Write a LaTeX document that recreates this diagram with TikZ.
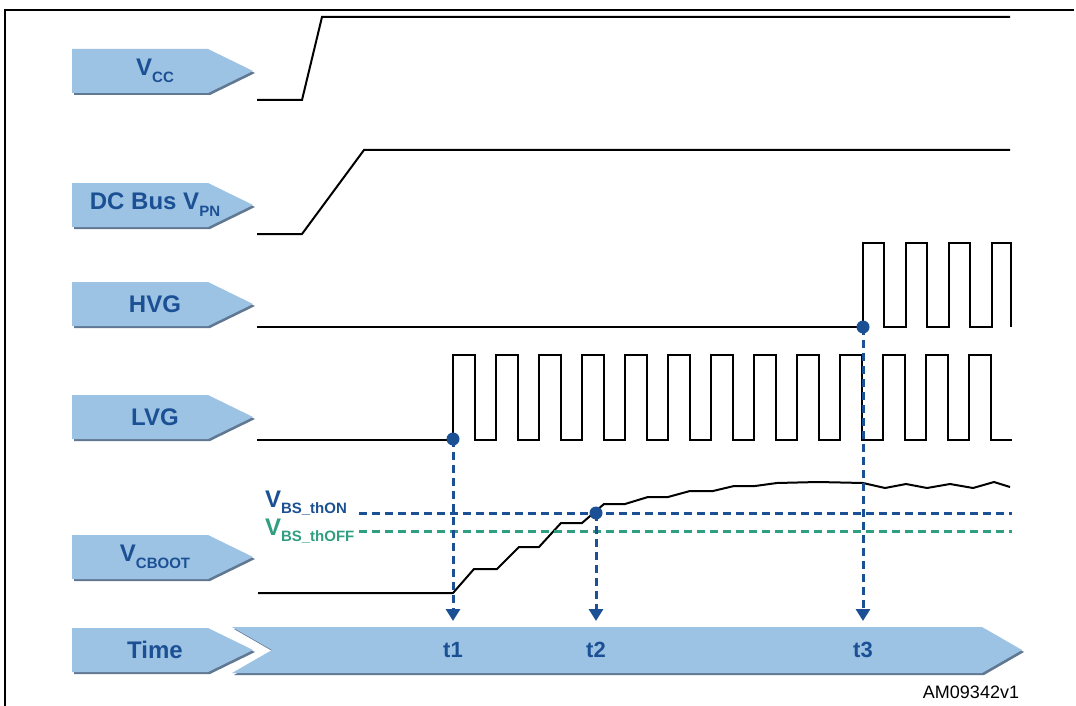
\documentclass[tikz,border=0pt]{standalone}
\usepackage{fontspec}
\setmainfont{Liberation Sans}
\usetikzlibrary{arrows.meta}
\definecolor{labelFill}{RGB}{157,195,228}
\definecolor{labelShade}{RGB}{96,120,146}
\definecolor{sigBlue}{RGB}{28,80,148}
\definecolor{thGreen}{RGB}{48,158,128}
% subscript in the signal names
\newcommand{\lsub}[1]{\raisebox{-0.55ex}{\fontsize{15}{15}\selectfont #1}}
\tikzset{
    every picture/.style={
        line width=2pt
    },
    % Style for the waveforms
    wave/.style={
        black,
        line width=2pt,
        line join=miter
    },
    % Style for the signal names
    sig label/.style={
        font=\fontsize{24}{26}\selectfont\bfseries,
        text=sigBlue,
        inner sep=0pt
    },
    % Style for the threshold names
    th label/.style={
        font=\fontsize{24}{26}\selectfont\bfseries,
        inner sep=0pt,
        anchor=base west
    },
    % Threshold lines
    th on/.style={
        sigBlue,
        line width=3pt,
        dash pattern=on 8pt off 5pt
    },
    th off/.style={
        thGreen,
        line width=3pt,
        dash pattern=on 8pt off 5pt
    },
    % Dashed arrows down to the time axis
    t arrow/.style={
        sigBlue,
        line width=3pt,
        dash pattern=on 8pt off 5pt,
        -{Triangle[width=14pt,length=12pt]}
    },
    time label/.style={
        font=\fontsize{22}{24}\selectfont\bfseries,
        text=sigBlue,
        inner sep=0pt
    }
}

\begin{document}
\begin{tikzpicture}[x=1pt,y=-1pt]

% Set the canvas size
\path[use as bounding box] (0,0) rectangle (1076,706);

% Frame
\draw[line width=2.5pt] (5,706) -- (5,10) -- (1074,10);

% Signal name boxes
\foreach \yc/\txt in {71/{V\lsub{CC}}, 205/{DC Bus V\lsub{PN}}, 304/{HVG},
                      417/{LVG}, 557/{V\lsub{CBOOT}}, 650/{Time}} {
    \fill[labelShade] (74,\yc-20) -- (210,\yc-20) -- (255,\yc+2) -- (210,\yc+24) -- (74,\yc+24) -- cycle;
    \fill[labelFill] (72,\yc-22) -- (208,\yc-22) -- (253,\yc) -- (208,\yc+22) -- (72,\yc+22) -- cycle;
    \node[sig label] (name-\yc) at (155,\yc) {\txt};
}

% Time axis
\fill[labelShade] (234,629) -- (984,629) -- (1024,652) -- (984,675) -- (234,675) -- (274,652) -- cycle;
\fill[labelFill] (232,627) -- (982,627) -- (1022,650) -- (982,673) -- (232,673) -- (272,650) -- cycle;

% Waveforms
\draw[wave] (257,100) -- (302,100) -- (322,17) -- (1010,17);
\draw[wave] (257,234) -- (302,234) -- (364,150) -- (1010,150);
\draw[wave] (257,327) -- (863,327) -- (863,243) -- (884,243) -- (884,327)
    -- (906,327) -- (906,243) -- (927,243) -- (927,327)
    -- (949,327) -- (949,243) -- (970,243) -- (970,327)
    -- (992,327) -- (992,243) -- (1011,243) -- (1011,327);
\draw[wave] (257,440) -- (453,440)
    foreach \k in {0,...,12} { -- ++(0,-85) -- ++(22,0) -- ++(0,85) -- ++(21,0) };
\draw[wave] (258,593) -- (453,593) -- (474,569) -- (497,569) -- (519,547)
    -- (539,547) -- (561,523) -- (582,523) -- (604,504) -- (625,504)
    -- (648,497) -- (668,497) -- (690,491) -- (713,491) -- (734,486)
    -- (755,486) -- (777,483) -- (818,482) -- (863,483) -- (885,488)
    -- (906,484) -- (927,488) -- (950,484) -- (973,488) -- (994,482)
    -- (1010,487);

% Thresholds
\draw[th on] (359,513) -- (1012,513);
\draw[th off] (359,531) -- (1012,531);
\node[th label, text=sigBlue] (thon) at (264,507) {V\lsub{BS\_thON}};
\node[th label, text=thGreen] (thoff) at (264,535) {V\lsub{BS\_thOFF}};

% Instants
\coordinate (dot1) at (453,439);
\coordinate (dot2) at (596,513);
\coordinate (dot3) at (863,327);
\coordinate (tip1) at (453,621);
\coordinate (tip2) at (596,621);
\coordinate (tip3) at (863,621);
\draw[t arrow] (dot1) -- (tip1);
\draw[t arrow] (dot2) -- (tip2);
\draw[t arrow] (dot3) -- (tip3);
\fill[sigBlue] (dot1) circle (6.5pt);
\fill[sigBlue] (dot2) circle (6.5pt);
\fill[sigBlue] (dot3) circle (6.5pt);

\node[time label] (t1) at (453,650) {t1};
\node[time label] (t2) at (596,650) {t2};
\node[time label] (t3) at (863,650) {t3};

\node[font=\fontsize{18}{20}\selectfont, inner sep=0pt] (ref) at (971,692) {AM09342v1};

\end{tikzpicture}
\end{document}
